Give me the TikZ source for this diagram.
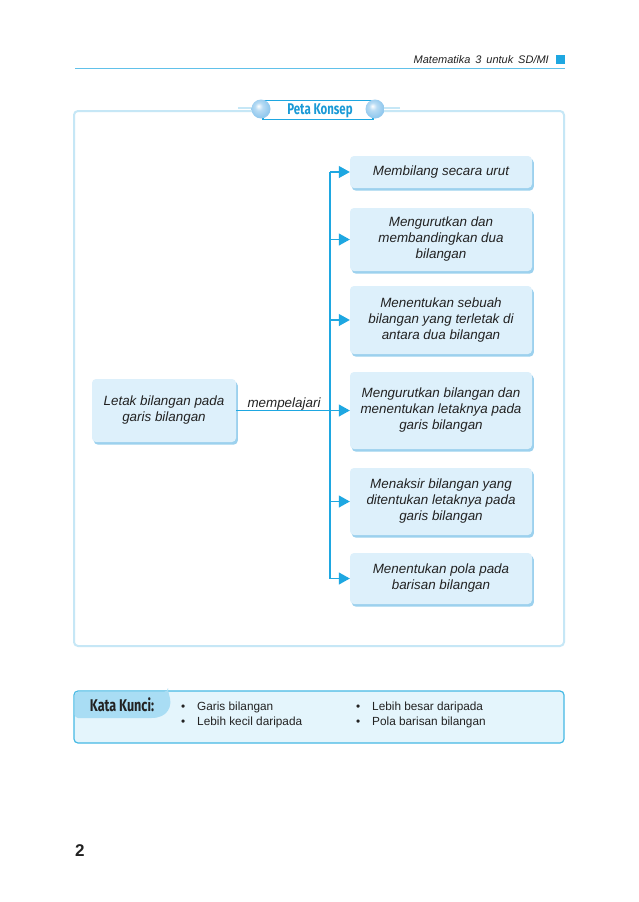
\documentclass[tikz,border=0pt]{standalone}
\usepackage{fontspec}
\setmainfont{Liberation Sans}
\newfontfamily\condfont[FakeStretch=0.74]{Fira Sans}
\usetikzlibrary{arrows.meta,shadows}
\definecolor{cyanline}{HTML}{1EA7E1}
\definecolor{framec}{HTML}{C6E7F6}
\definecolor{boxfill}{HTML}{DDF0FB}
\definecolor{boxshadow}{HTML}{9CD1EE}
\definecolor{kkfill}{HTML}{E4F5FC}
\definecolor{kkborder}{HTML}{45B9E4}
\definecolor{kktab}{HTML}{A9DDF4}
\definecolor{titleblue}{HTML}{1A9AD6}
\definecolor{ballc}{HTML}{93C9EE}
\definecolor{txt}{HTML}{222222}
\pgfdeclareradialshading{softball}{\pgfpoint{-7bp}{8bp}}{%
  color(0bp)=(white);
  color(10bp)=(white!35!ballc);
  color(25bp)=(ballc);
  color(50bp)=(ballc)}
\tikzset{
  cbox/.style={draw=none, fill=boxfill, rounded corners=4pt, align=center,
    font=\fontsize{13.4}{16}\selectfont\itshape, text=txt,
    drop shadow={shadow xshift=1.8pt, shadow yshift=-2.6pt, fill=boxshadow, opacity=1},
    inner sep=2pt},
  conn/.style={draw=cyanline, line width=1.1pt},
  arr/.style={conn, -{Triangle[length=11pt,width=12pt]}},
  kw/.style={anchor=base west, font=\fontsize{11.8}{14}\selectfont, text=txt, inner sep=0pt},
  ball/.style={shading=softball},
}
\begin{document}
\begin{tikzpicture}[x=1pt,y=-1pt]
\useasboundingbox[fill=white] (0,0) rectangle (638,902);
% header
\node[anchor=base east, font=\fontsize{11}{13}\selectfont\itshape, text=txt, inner sep=0pt] (hdr) at (549,63) {Matematika\,\ 3\,\ untuk\,\ SD/MI};
\fill[cyanline] (556,55) rectangle (565,64);
\draw[cyanline!70, line width=0.7pt] (75,68) -- (565,68);
% frame
\draw[framec, line width=2pt, rounded corners=4pt] (74,111) rectangle (564,646);
% title pill
\draw[framec, line width=1.2pt] (238,108) -- (400,108);
\node[draw=cyanline, line width=1.3pt, fill=white, minimum width=110pt, minimum height=19pt, inner sep=0pt] (title) at (318,110) {};
\shade[ball] (261,109) circle (9.5pt);
\shade[ball] (375,109) circle (9.5pt);
\node[font=\condfont\bfseries\fontsize{15.5}{17}\selectfont, text=titleblue] (titletext) at (320,110.5) {Peta Konsep};
% left box
\node[cbox, minimum width=144pt, minimum height=63pt] (left) at (164,410.5) {Letak bilangan pada\\garis bilangan};
% right boxes
\node[cbox, minimum width=182pt, minimum height=32pt] (b1) at (441,172) {Membilang secara urut};
\node[cbox, minimum width=182pt, minimum height=63pt] (b2) at (441,239.5) {Mengurutkan dan\\membandingkan dua\\bilangan};
\node[cbox, minimum width=182pt, minimum height=68pt] (b3) at (441,320) {Menentukan sebuah\\bilangan yang terletak di\\antara dua bilangan};
\node[cbox, minimum width=182pt, minimum height=77pt] (b4) at (441,410.5) {Mengurutkan bilangan dan\\menentukan letaknya pada\\garis bilangan};
\node[cbox, minimum width=182pt, minimum height=67pt] (b5) at (441,501.5) {Menaksir bilangan yang\\ditentukan letaknya pada\\garis bilangan};
\node[cbox, minimum width=182pt, minimum height=51pt] (b6) at (441,578.5) {Menentukan pola pada\\barisan bilangan};
% connectors
\coordinate (top) at (330,172);
\coordinate (bot) at (330,578.5);
\draw[conn] (top) -- (bot);
\draw[arr] (left.east) -- (b4.west);
\draw[arr] (top) -- (b1.west);
\draw[arr] (330,239.5) -- (b2.west);
\draw[arr] (330,320) -- (b3.west);
\draw[arr] (330,501.5) -- (b5.west);
\draw[arr] (bot) -- (b6.west);
\node[font=\fontsize{13.4}{16}\selectfont\itshape, text=txt, anchor=base] (lab) at (284,407) {mempelajari};
% Kata Kunci
\draw[kkborder, fill=kkfill, line width=1.2pt, rounded corners=4pt] (74,691) rectangle (564,743);
\fill[kktab, rounded corners=3.5pt] (74.6,691.6) -- (168,691.6) -- (168,691.6) .. controls (173,706) and (168,718) .. (148,718) -- (74.6,718) -- cycle;
\node[font=\condfont\bfseries\fontsize{17}{19}\selectfont, text=txt] (kk) at (122,705) {Kata Kunci:};
\node[kw] (k1b) at (181,710) {•};
\node[kw] (k1) at (197,710) {Garis bilangan};
\node[kw] (k2b) at (181,725) {•};
\node[kw] (k2) at (197,725) {Lebih kecil daripada};
\node[kw] (k3b) at (356,710) {•};
\node[kw] (k3) at (372,710) {Lebih besar daripada};
\node[kw] (k4b) at (356,725) {•};
\node[kw] (k4) at (372,725) {Pola barisan bilangan};
% page number
\node[font=\bfseries\fontsize{17}{19}\selectfont, text=txt, anchor=base west, inner sep=0pt] (pg) at (75,856) {2};
\end{tikzpicture}
\end{document}
